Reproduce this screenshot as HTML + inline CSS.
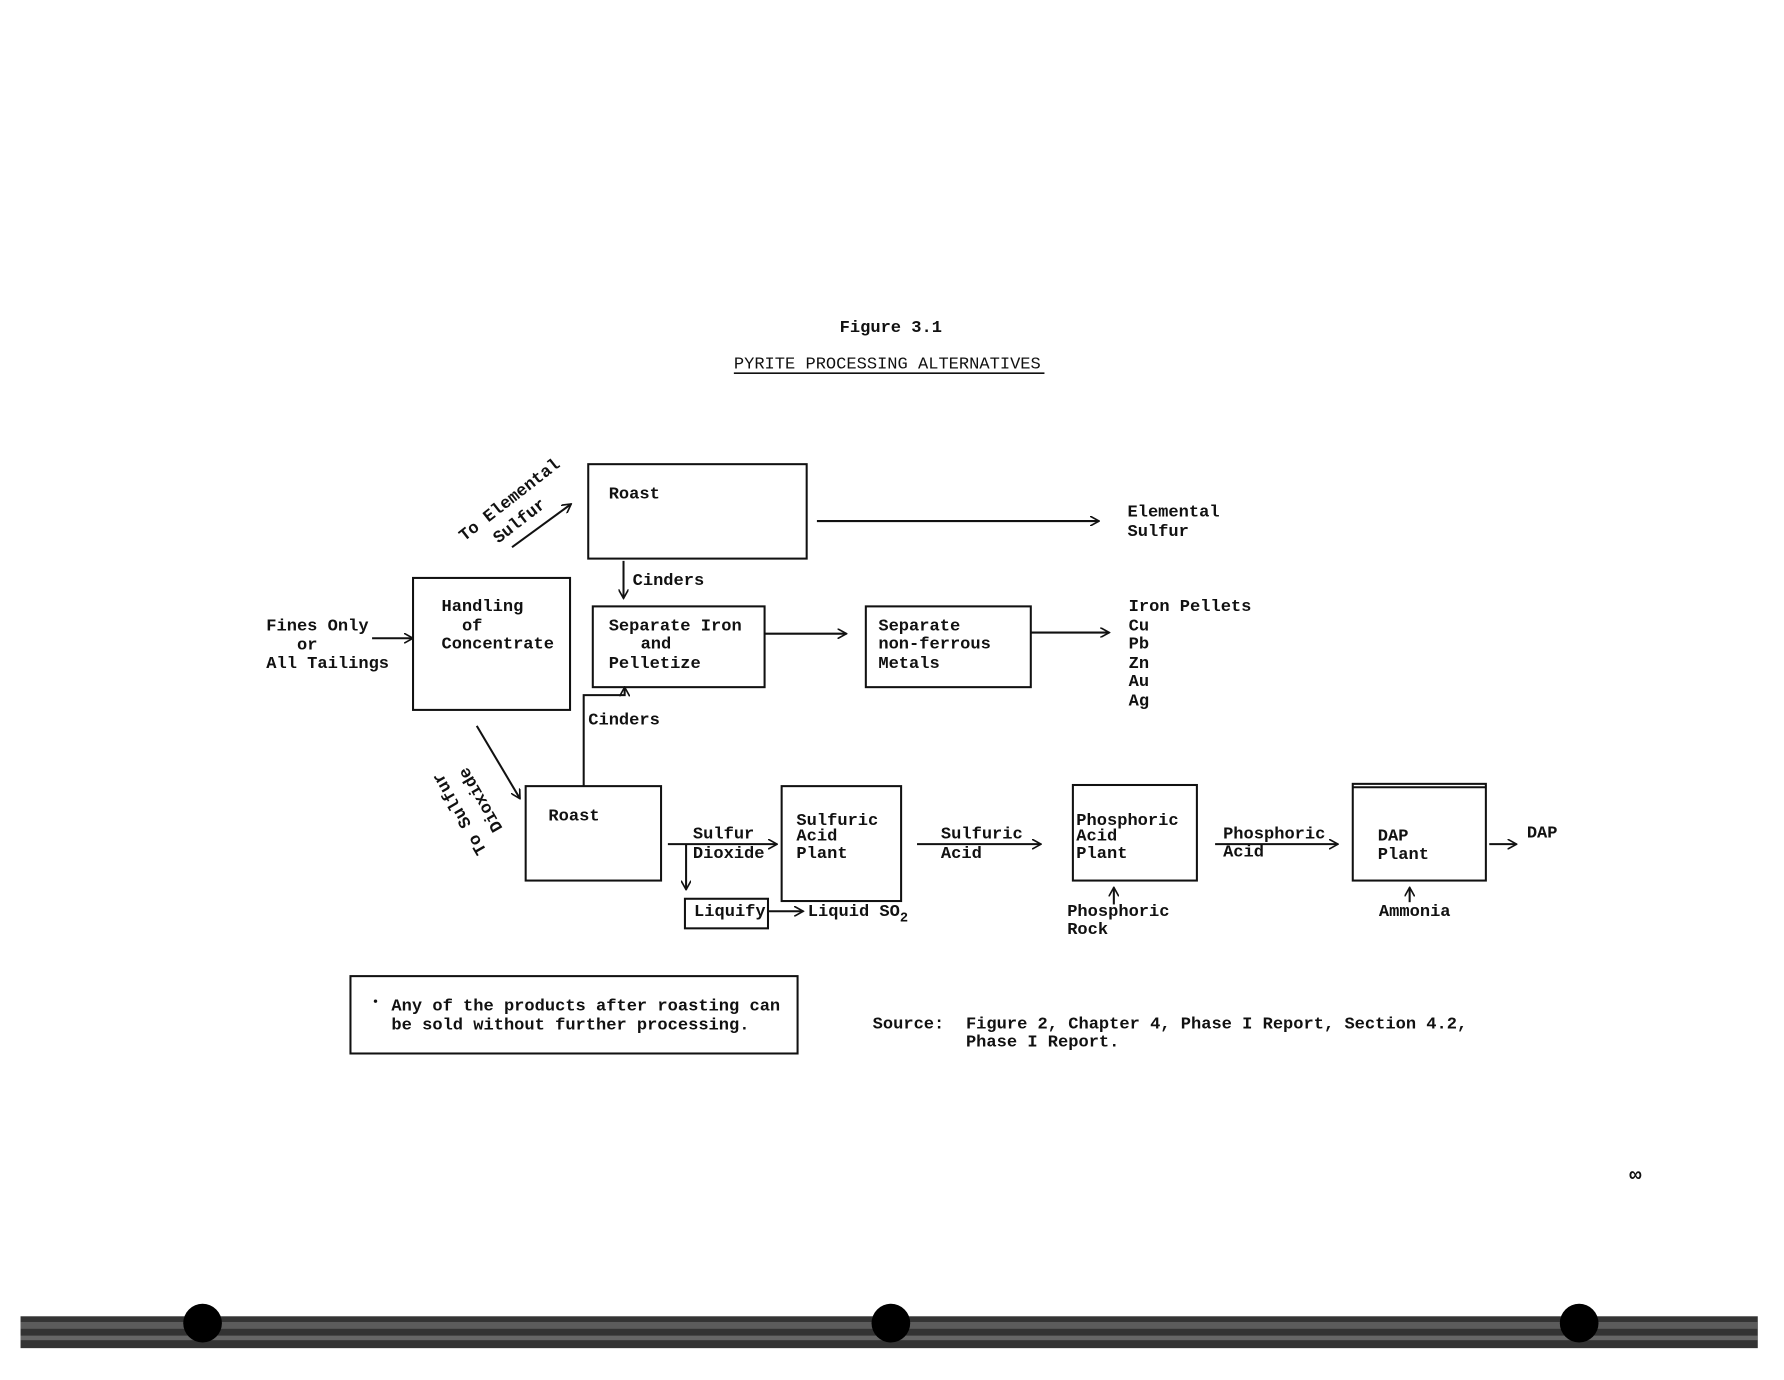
<!DOCTYPE html>
<html><head><meta charset="utf-8"><style>
html,body{margin:0;padding:0;background:#fff;}
svg{display:block;}
text{font-family:"Liberation Mono","DejaVu Sans Mono",monospace;font-size:15px;font-weight:bold;fill:#111;}
</style></head><body>
<svg width="1784" height="1380" viewBox="0 0 1568 1213" xmlns="http://www.w3.org/2000/svg">
<defs>
<marker id="a" viewBox="0 0 10 10" refX="9" refY="5" markerWidth="9" markerHeight="9" orient="auto" markerUnits="userSpaceOnUse">
<path d="M0,0 L9,5 L0,10" fill="none" stroke="#111" stroke-width="1.6"/></marker>
</defs>
<rect width="1568" height="1213" fill="#fff"/>
<g stroke="#111" stroke-width="1.8" fill="none">
<rect x="517" y="408" width="192" height="83"/>
<rect x="521" y="533" width="151" height="71"/>
<rect x="761" y="533" width="145" height="71"/>
<rect x="363" y="508" width="138" height="116"/>
<rect x="462" y="691" width="119" height="83"/>
<rect x="602" y="790" width="73" height="26"/>
<rect x="687" y="691" width="105" height="101"/>
<rect x="943" y="690" width="109" height="84"/>
<rect x="1189" y="689" width="117" height="85"/>
<line x1="1189" y1="692" x2="1306" y2="692"/>
<rect x="308" y="858" width="393" height="68"/>
<line x1="645" y1="328" x2="918" y2="328" stroke-width="1.4"/>
<g marker-end="url(#a)">
<line x1="718" y1="458" x2="966" y2="458"/>
<line x1="450" y1="481" x2="502" y2="443"/>
<line x1="548" y1="493" x2="548" y2="526"/>
<line x1="672" y1="557" x2="744" y2="557"/>
<line x1="906" y1="556" x2="975" y2="556"/>
<line x1="327" y1="561" x2="363" y2="561"/>
<line x1="419" y1="638" x2="457" y2="702"/>
<polyline points="513,691 513,611 549,611 549,604"/>
<line x1="587" y1="742" x2="683" y2="742"/>
<line x1="603" y1="742" x2="603" y2="782"/>
<line x1="675" y1="801" x2="706" y2="801"/>
<line x1="806" y1="742" x2="915" y2="742"/>
<line x1="979" y1="795" x2="979" y2="780"/>
<line x1="1068" y1="742" x2="1176" y2="742"/>
<line x1="1239" y1="793" x2="1239" y2="780"/>
<line x1="1309" y1="742" x2="1333" y2="742"/>
</g>
</g>
<text x="738" y="292">Figure  3.1</text>
<text x="645" y="324" style="font-weight:normal">PYRITE PROCESSING ALTERNATIVES</text>
<text x="535" y="438">Roast</text>
<text x="991" y="454">Elemental</text><text x="991" y="471">Sulfur</text>
<text transform="translate(408,476) rotate(-38)">To Elemental</text>
<text transform="translate(438,478) rotate(-38)">Sulfur</text>
<text x="556" y="514">Cinders</text>
<text x="535" y="554">Separate Iron</text><text x="563" y="570">and</text><text x="535" y="587">Pelletize</text>
<text x="772" y="554">Separate</text><text x="772" y="570">non-ferrous</text><text x="772" y="587">Metals</text>
<text x="992" y="537">Iron Pellets</text>
<text x="992" y="554">Cu</text><text x="992" y="570">Pb</text><text x="992" y="587">Zn</text><text x="992" y="603">Au</text><text x="992" y="620">Ag</text>
<text x="388" y="537">Handling</text><text x="406" y="554">of</text><text x="388" y="570">Concentrate</text>
<text x="234" y="554">Fines Only</text><text x="261" y="571">or</text><text x="234" y="587">All Tailings</text>
<text transform="translate(428,748) rotate(240)">To Sulfur</text>
<text transform="translate(442,728) rotate(240)">Dioxide</text>
<text x="482" y="721">Roast</text>
<text x="517" y="637">Cinders</text>
<text x="609" y="737">Sulfur</text><text x="609" y="754">Dioxide</text>
<text x="610" y="805">Liquify</text>
<text x="710" y="805">Liquid SO<tspan dy="5" font-size="12">2</tspan></text>
<text x="700" y="725">Sulfuric</text><text x="700" y="739">Acid</text><text x="700" y="754">Plant</text>
<text x="827" y="737">Sulfuric</text><text x="827" y="754">Acid</text>
<text x="946" y="725">Phosphoric</text><text x="946" y="739">Acid</text><text x="946" y="754">Plant</text>
<text x="938" y="805">Phosphoric</text><text x="938" y="821">Rock</text>
<text x="1075" y="737">Phosphoric</text><text x="1075" y="753">Acid</text>
<text x="1211" y="739">DAP</text><text x="1211" y="755">Plant</text>
<text x="1212" y="805">Ammonia</text>
<text x="1342" y="736">DAP</text>
<circle cx="330" cy="880" r="1.5" fill="#111"/>
<text x="344" y="888">Any of the products after roasting can</text>
<text x="344" y="905">be sold without further processing.</text>
<text x="767" y="904">Source:</text>
<text x="849" y="904">Figure 2, Chapter 4, Phase I Report, Section 4.2,</text>
<text x="849" y="920">Phase I Report.</text>
<text x="1432" y="1038" style="font-size:18px">∞</text>
<rect x="18" y="1157" width="1527" height="28" fill="#333"/>
<rect x="18" y="1162" width="1527" height="6" fill="#777" opacity="0.6"/>
<rect x="18" y="1174" width="1527" height="4" fill="#999" opacity="0.5"/>
<circle cx="178" cy="1163" r="17" fill="#000"/>
<circle cx="783" cy="1163" r="17" fill="#000"/>
<circle cx="1388" cy="1163" r="17" fill="#000"/>
</svg>
</body></html>
